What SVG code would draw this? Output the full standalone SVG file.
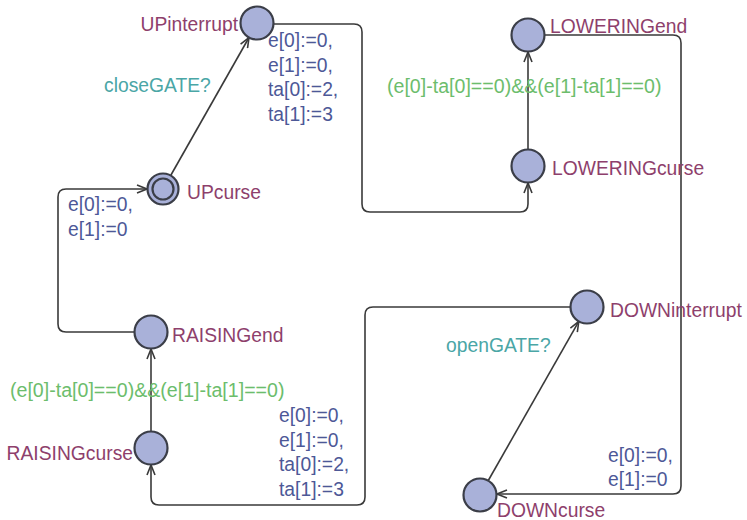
<svg xmlns="http://www.w3.org/2000/svg" width="747" height="520" viewBox="0 0 747 520">
<defs>
<style>
.loc{fill:#a9b1d9;stroke:#3b3e48;stroke-width:2.2}
.edge{fill:none;stroke:#3a3a3a;stroke-width:1.6;marker-end:url(#arr)}
text{font-family:"Liberation Sans",Arial,sans-serif;font-size:19.3px}
.name{fill:#8e3f6c}
.upd{fill:#4d5897}
.grd{fill:#6cbd6c;font-size:19.6px}
.syn{fill:#4aa6a6}
</style>
<marker id="arr" viewBox="0 0 12 10" refX="11" refY="5" markerWidth="12" markerHeight="10" markerUnits="userSpaceOnUse" orient="auto">
<path d="M1,1 L11,5 L1,9" fill="none" stroke="#3a3a3a" stroke-width="1.6"/>
</marker>
</defs>
<rect width="747" height="520" fill="#ffffff"/>
<g id="connectors">
<path class="edge" d="M170.4,176 L249,37.5"/>
<path class="edge" d="M274,24 H354 Q362,24 362,32 V204 Q362,212 370,212 H520 Q528,212 528,204 V183"/>
<path class="edge" d="M528,150 V52"/>
<path class="edge" d="M545,35 H673 Q681,35 681,43 V486 Q681,494 673,494 H497"/>
<path class="edge" d="M488,481 L578.8,321.4"/>
<path class="edge" d="M571,307 H373 Q365,307 365,315 V497 Q365,505 357,505 H159 Q151,505 151,497 V465"/>
<path class="edge" d="M151,432 V349"/>
<path class="edge" d="M135,332 H66 Q58,332 58,324 V197 Q58,189 66,189 H147"/>
</g>
<g id="UPinterrupt">
<circle class="loc" cx="257" cy="23" r="16.5"/>
<text class="name" x="238" y="31" text-anchor="end">UPinterrupt</text>
</g>
<g id="UPcurse">
<circle class="loc" cx="163" cy="189" r="15.5" stroke-width="2.6"/>
<circle class="loc" cx="163" cy="189" r="10.5" stroke-width="1.8"/>
<text class="name" x="187" y="199">UPcurse</text>
</g>
<g id="LOWERINGend">
<circle class="loc" cx="528" cy="35" r="16.5"/>
<text class="name" x="550" y="33">LOWERINGend</text>
</g>
<g id="LOWERINGcurse">
<circle class="loc" cx="528" cy="166" r="16.5"/>
<text class="name" x="552" y="175">LOWERINGcurse</text>
</g>
<g id="DOWNinterrupt">
<circle class="loc" cx="587" cy="307" r="16.5"/>
<text class="name" x="610" y="317">DOWNinterrupt</text>
</g>
<g id="DOWNcurse">
<circle class="loc" cx="480" cy="495" r="16.5"/>
<text class="name" x="497" y="517">DOWNcurse</text>
</g>
<g id="RAISINGcurse">
<circle class="loc" cx="151" cy="448" r="16.5"/>
<text class="name" x="133" y="460" text-anchor="end">RAISINGcurse</text>
</g>
<g id="RAISINGend">
<circle class="loc" cx="151" cy="332" r="16.5"/>
<text class="name" x="172" y="342">RAISINGend</text>
</g>
<g id="labels">
<text class="syn" x="104" y="92">closeGATE?</text>
<text class="upd" x="268" y="47">e[0]:=0,</text>
<text class="upd" x="268" y="71.5">e[1]:=0,</text>
<text class="upd" x="268" y="96">ta[0]:=2,</text>
<text class="upd" x="268" y="120.5">ta[1]:=3</text>
<text class="grd" x="387" y="93">(e[0]-ta[0]==0)&amp;&amp;(e[1]-ta[1]==0)</text>
<text class="upd" x="68" y="211">e[0]:=0,</text>
<text class="upd" x="68" y="235.5">e[1]:=0</text>
<text class="syn" x="446" y="352">openGATE?</text>
<text class="upd" x="608" y="462">e[0]:=0,</text>
<text class="upd" x="608" y="486">e[1]:=0</text>
<text class="grd" x="10" y="397">(e[0]-ta[0]==0)&amp;&amp;(e[1]-ta[1]==0)</text>
<text class="upd" x="279" y="422">e[0]:=0,</text>
<text class="upd" x="279" y="446.5">e[1]:=0,</text>
<text class="upd" x="279" y="471">ta[0]:=2,</text>
<text class="upd" x="279" y="495.5">ta[1]:=3</text>
</g>
</svg>
